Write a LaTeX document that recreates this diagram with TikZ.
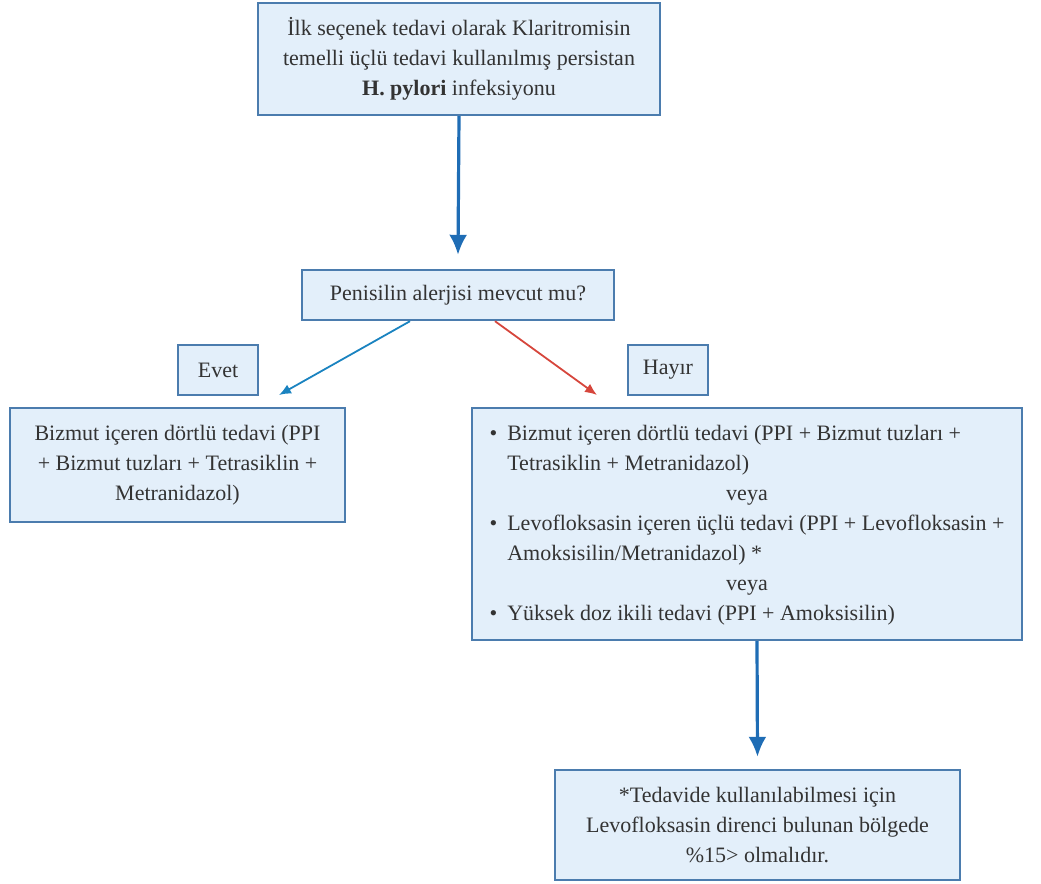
\documentclass[tikz,border=0pt]{standalone}
\usepackage{fontspec}
\setmainfont{Liberation Serif}
\usetikzlibrary{arrows.meta}
\definecolor{boxfill}{HTML}{E3EFFA}
\definecolor{boxline}{HTML}{4B7CAE}
\definecolor{arrblue}{HTML}{1F6DB5}
\definecolor{arrred}{HTML}{D6463C}
\definecolor{txt}{HTML}{333333}
\begin{document}
\begin{tikzpicture}[x=0.5pt, y=-0.5pt,
  box/.style={draw=boxline, line width=1.2pt, fill=boxfill, text=txt,
    inner sep=3pt, align=center,
    font=\fontsize{11}{15}\selectfont},
  bigarrow/.style={draw=arrblue, line width=1.6pt,
    -{Latex[length=10pt, width=9pt]}},
  thinarrow/.style={line width=0.9pt, -{Latex[length=6pt, width=5pt]}}]
  \useasboundingbox (0,0) rectangle (1041,884);

  % kutular (merkez, piksel)
  \node[box, minimum width=201pt, minimum height=56pt] (start) at (459,59)
    {İlk seçenek tedavi olarak Klaritromisin\\
     temelli üçlü tedavi kullanılmış persistan\\
     \textbf{H. pylori} infeksiyonu};
  \node[box, minimum width=156pt, minimum height=25pt] (allergy) at (458,295)
    {Penisilin alerjisi mevcut mu?};
  \node[box, minimum width=40pt, minimum height=25pt] (yes) at (218,370) {Evet};
  \node[box, minimum width=40pt, minimum height=25pt] (no) at (668,370) {Hayır};
  \node[box, minimum width=167.5pt, minimum height=57pt] (quad) at (177.5,465)
    {Bizmut içeren dörtlü tedavi (PPI\\
     + Bizmut tuzları + Tetrasiklin +\\
     Metranidazol)};
  \node[box, minimum width=275pt, minimum height=116pt] (options) at (747,524)
    {\begin{tabular}{@{}l@{\hspace{5pt}}l@{}}
     \textbullet & Bizmut içeren dörtlü tedavi (PPI + Bizmut tuzları +\\
                 & Tetrasiklin + Metranidazol)\\
     \multicolumn{2}{c}{veya}\\
     \textbullet & Levofloksasin içeren üçlü tedavi (PPI + Levofloksasin +\\
                 & Amoksisilin/Metranidazol) *\\
     \multicolumn{2}{c}{veya}\\
     \textbullet & Yüksek doz ikili tedavi (PPI + Amoksisilin)
     \end{tabular}};
  \node[box, minimum width=202.5pt, minimum height=55pt] (note) at (757.5,825)
    {*Tedavide kullanılabilmesi için\\
     Levofloksasin direnci bulunan bölgede\\
     \%15> olmalıdır.};

  % oklar
  \draw[bigarrow] (start.south) -- ([yshift=7pt]allergy.north);
  \coordinate (yestip) at (279,395);
  \coordinate (notip) at (597,395);
  \draw[thinarrow, draw=arrblue!85!cyan] ([xshift=-24pt]allergy.south) -- (yestip);
  \draw[thinarrow, draw=arrred] ([xshift=18.5pt]allergy.south) -- (notip);
  \draw[bigarrow] ([xshift=5pt]options.south) -- ([yshift=6pt]note.north);
\end{tikzpicture}
\end{document}
